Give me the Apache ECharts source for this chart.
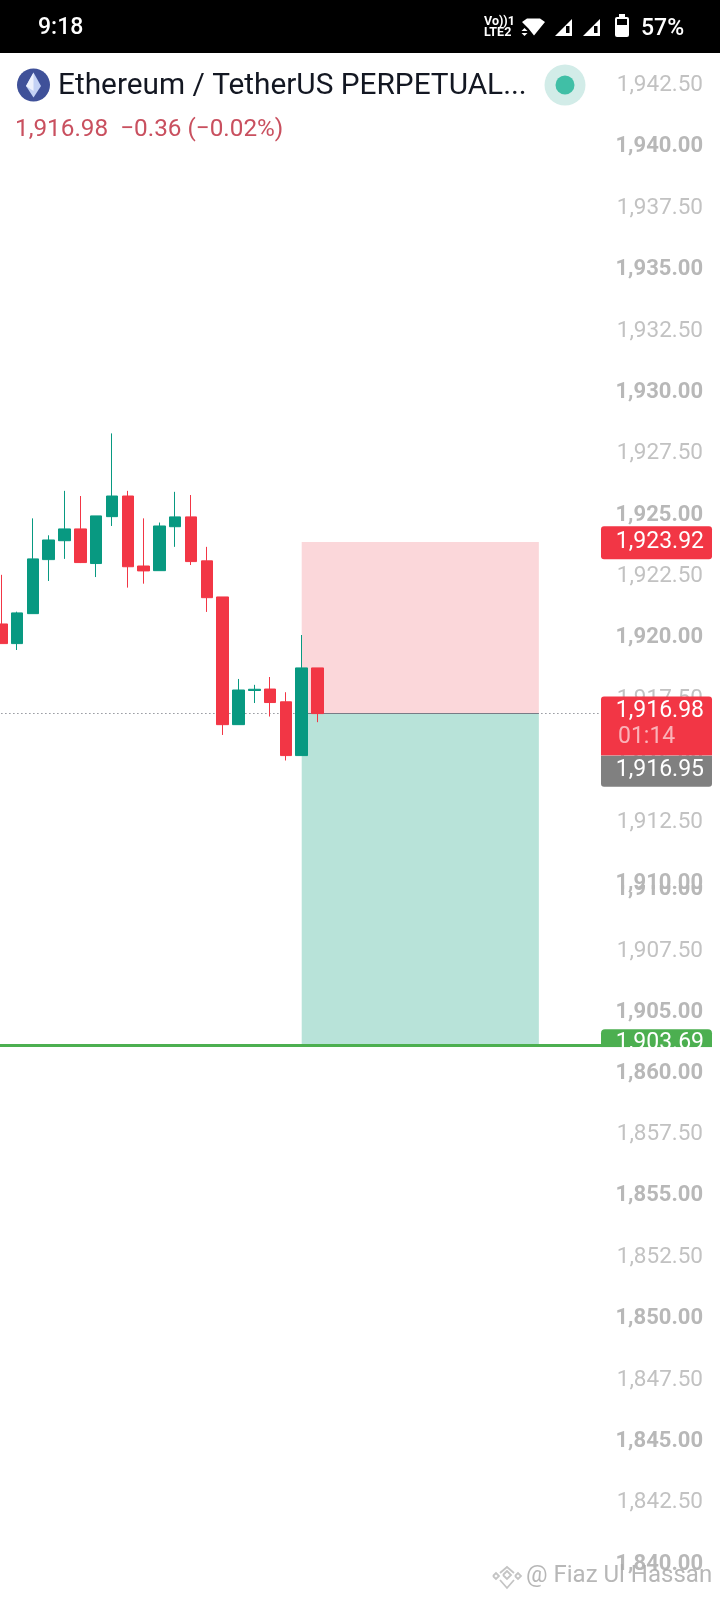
<!DOCTYPE html>
<html>
<head>
<meta charset="utf-8">
<style>html,body{margin:0;padding:0;background:#fff}#c{width:720px;height:1600px}</style>
<script src="https://cdn.jsdelivr.net/npm/echarts@6/dist/echarts.min.js"></script>
</head>
<body>
<div id="c"></div>
<script>
const categories = Array.from({length: 39}, (_, i) => 'C' + i);
const opens  = [1920.63,1919.83,1921.05,1923.25,1924.02,1924.50,1923.09,1925.00,1925.84,1922.99,1922.80,1924.59,1924.99,1923.20,1921.73,1916.53,1917.92,1917.98,1917.46,1915.27,1918.84];
const closes = [1919.83,1921.08,1923.28,1924.05,1924.50,1923.13,1925.03,1925.84,1922.96,1922.79,1924.62,1924.99,1923.17,1921.70,1916.53,1917.94,1917.97,1917.43,1915.27,1918.84,1916.98];
const lows   = [1919.83,1919.57,1921.05,1922.38,1923.28,1923.11,1922.54,1924.62,1922.11,1922.27,1922.80,1923.77,1923.03,1921.12,1916.11,1916.53,1917.41,1916.86,1915.07,1915.27,1916.63];
const highs  = [1922.63,1921.13,1924.93,1924.24,1926.05,1925.84,1925.03,1928.39,1926.05,1924.93,1924.76,1926.01,1925.88,1923.77,1921.73,1918.39,1918.15,1918.47,1917.85,1920.18,1918.84];

const ticksTop = [1942.5,1940,1937.5,1935,1932.5,1930,1927.5,1925,1922.5,1920,1917.5,1915,1912.5,1910];
const ticksMid = [1910,1907.5,1905];
const ticksBottom = [1860,1857.5,1855,1852.5,1850,1847.5,1845,1842.5,1840];

const entryPrice = 1916.98;
const stopPrice = 1923.92;
const stopBoxEdge = 1923.97;
const targetPrice = 1903.69;
const lastPrice = 1916.95;
const boxStart = 19;
const boxEnd = 34;
const countdown = '01:14';

const titleText = 'Ethereum / TetherUS PERPETUAL...';
const quoteText = '1,916.98  \u22120.36 (\u22120.02%)';

const FONT = 'Roboto';
const fmt = v => v.toLocaleString('en-US', {minimumFractionDigits: 2, maximumFractionDigits: 2});

function yLabel(values, shift) {
  return {
    show: true, customValues: values, hideOverlap: false,
    align: 'right', margin: 93, padding: [0, 0, shift * 2, 0],
    fontFamily: FONT, fontSize: 22, color: '#bcbcbc',
    formatter: v => (v % 5 === 0 ? '{b|' + fmt(v) + '}' : '{n|' + fmt(v) + '}'),
    rich: {
      b: {fontFamily: FONT, fontSize: 22, fontWeight: 700, color: '#b8b8b8'},
      n: {fontFamily: FONT, fontSize: 22.5, fontWeight: 400, color: '#c2c2c2'}
    }
  };
}
function yAxis(gridIndex, min, max, values, shift, z) {
  return {
    type: 'value', gridIndex, min, max, position: 'right', scale: true, z,
    axisLine: {show: false}, axisTick: {show: false}, splitLine: {show: false},
    axisLabel: yLabel(values, shift)
  };
}
function xAxis(gridIndex) {
  return {type: 'category', gridIndex, data: categories, show: false, boundaryGap: true};
}
const grid = (top, height) => ({left: -6.6, width: 616.6, top, height, containLabel: false, outerBoundsMode: 'none'});

function tagRender(params, api) {
  const y = api.coord([0, api.value(1)])[1];
  const i = params.dataIndex;
  const rect = (top, h, fill, r) => ({type: 'rect', shape: {x: 601, y: top, width: 111, height: h, r}, style: {fill}});
  const text = (t, tx, ty, fill, align) => ({
    type: 'text',
    style: {text: t, x: tx, y: ty, fill, font: '400 23px ' + FONT, textAlign: align || 'right', textVerticalAlign: 'middle'}
  });
  if (i === 0) return {type: 'group', children: [
    rect(y - 17, 33, '#f23645', [3, 3, 3, 3]),
    text(fmt(stopPrice), 704, y - 1, '#ffffff')]};
  if (i === 1) return {type: 'group', children: [
    rect(y - 17, 59, '#f23645', [3, 3, 0, 0]),
    text(fmt(entryPrice), 704, y - 2, '#ffffff'),
    text(countdown, 618, y + 24, 'rgba(255,255,255,0.62)', 'left')]};
  return {type: 'group', children: [
    rect(y + 41.5, 31, '#808080', [0, 0, 3, 3]),
    text(fmt(lastPrice), 704, y + 56, '#ffffff')]};
}
function targetTagRender(params, api) {
  const y = api.coord([0, api.value(1)])[1];
  return {type: 'group', children: [
    {type: 'rect', shape: {x: 601, y: y - 16, width: 111, height: 18, r: [4, 4, 0, 0]}, style: {fill: '#4caf50'}},
    {type: 'text', style: {text: fmt(targetPrice), x: 704, y: y - 2, fill: '#ffffff', font: '400 23px ' + FONT, textAlign: 'right', textVerticalAlign: 'middle'}},
    {type: 'rect', shape: {x: 601, y: y + 2, width: 111, height: 11}, style: {fill: '#ffffff'}}
  ]};
}

const poly = (points, fill, z) => ({type: 'polygon', shape: {points}, style: {fill}, z: z || 30, silent: true});
const line = (points, z) => ({type: 'polyline', shape: {points}, style: {stroke: '#c4c4c4', lineWidth: 1.8, fill: null}, z: z || 30, silent: true});
const label = (t, x, y, font, fill, align) => ({type: 'text', z: 30, silent: true, style: {text: t, x, y, font, fill, textAlign: align || 'left', textVerticalAlign: 'middle'}});
const box = (x, y, width, height, fill, r, z) => ({type: 'rect', shape: {x, y, width, height, r: r || 0}, style: {fill}, z: z || 30, silent: true});

const decorations = [
  box(0, 0, 720, 53, '#000', 0, 29),
  label('9:18', 38, 28.5, '500 23px ' + FONT, '#fff'),
  label('Vo))1', 484, 22, '700 12.5px ' + FONT, '#fff'),
  label('LTE2', 484, 33, '700 12.5px ' + FONT, '#fff'),
  poly([[522,22],[527,18.5],[540,18.5],[545,22],[534,35.5],[528.5,28.5]], '#fff'),
  poly([[524.5,28],[521.5,31],[527.5,31]], '#fff'),
  poly([[521.5,33],[527.5,33],[524.5,36]], '#fff'),
  poly([[555,36],[572,36],[572,19]], '#fff'),
  box(566, 26, 3.5, 7, '#000', 0, 31),
  poly([[583,36],[600,36],[600,19]], '#fff'),
  box(594, 26, 3.5, 7, '#000', 0, 31),
  box(619, 14, 6, 4, '#fff'),
  box(615, 17, 14, 20, '#fff', 2),
  box(617, 19, 10, 6, '#000', 0, 31),
  label('57%', 641, 29, '500 23px ' + FONT, '#fff'),
  {type: 'circle', shape: {cx: 33.5, cy: 85, r: 16.5}, style: {fill: '#3f5199'}, z: 30, silent: true},
  poly([[33.5,72.5],[41,86],[33.5,97.5],[26,86]], '#c4d2f5'),
  poly([[33.5,72.5],[33.5,91],[26,86]], '#eef2fd', 31),
  {type: 'circle', shape: {cx: 565, cy: 85, r: 20.5}, style: {fill: '#d2ece8'}, z: 30, silent: true},
  {type: 'circle', shape: {cx: 565, cy: 85, r: 9.5}, style: {fill: '#40bfa6'}, z: 31, silent: true},
  box(612, 874, 96, 11, '#fff', 0, 2),
  line([[500,1573],[507,1567],[514,1573]]),
  line([[493,1576],[496,1573],[499,1576],[496,1579],[493,1576]]),
  line([[515,1576],[518,1573],[521,1576],[518,1579],[515,1576]]),
  line([[503,1575],[507,1571],[511,1575],[507,1579],[503,1575]]),
  line([[500,1580],[507,1588],[514,1580]]),
  label('@ Fiaz Ul Hassan', 526, 1576, '400 24px ' + FONT, 'rgba(170,170,170,0.85)')
];

const option = {
  animation: false,
  backgroundColor: '#ffffff',
  title: [
    {text: titleText, left: 53, top: 66.5, z: 30, textStyle: {fontFamily: FONT, fontSize: 29.8, fontWeight: 400, color: '#131722'}},
    {text: quoteText, left: 10, top: 113, z: 30, textStyle: {fontFamily: FONT, fontSize: 24.3, fontWeight: 400, color: '#c9505f'}}
  ],
  grid: [grid(53, 832), grid(885, 162), grid(1047, 553)],
  xAxis: [xAxis(0), xAxis(1), xAxis(2)],
  yAxis: [
    yAxis(0, 1910, 1943.88, ticksTop, 1.5, 3),
    yAxis(1, 1903.62, 1910.21, ticksMid, 0.2, 1),
    yAxis(2, 1838.60, 1861.12, ticksBottom, 1.5, 1)
  ],
  graphic: {elements: decorations},
  series: [
    {
      type: 'candlestick', xAxisIndex: 0, yAxisIndex: 0, barWidth: 12, z: 5,
      clip: false,
      data: opens.map((o, i) => [o, closes[i], lows[i], highs[i]]),
      itemStyle: {color: '#089981', color0: '#f23645', borderColor: '#089981', borderColor0: '#f23645', borderWidth: 1},
      markArea: {
        silent: true, z: 1,
        data: [
          [{xAxis: boxStart, yAxis: stopBoxEdge, itemStyle: {color: '#fbd7da'}}, {xAxis: boxEnd, yAxis: entryPrice}],
          [{xAxis: boxStart, yAxis: entryPrice, itemStyle: {color: '#b8e3d9'}}, {xAxis: boxEnd, yAxis: 1910}]
        ]
      },
      markLine: {
        silent: true, symbol: 'none', label: {show: false}, z: 2,
        data: [
          {yAxis: entryPrice, lineStyle: {color: '#5d606b', type: [1, 3], width: 1}},
          [{xAxis: boxStart, yAxis: entryPrice, lineStyle: {color: '#787b86', type: 'solid', width: 1}}, {xAxis: boxEnd, yAxis: entryPrice}]
        ]
      }
    },
    {
      type: 'custom', xAxisIndex: 0, yAxisIndex: 0, z: 20, clip: false, silent: true,
      encode: {x: 0, y: 1},
      data: [[0, stopPrice], [0, entryPrice], [0, lastPrice]],
      renderItem: tagRender
    },
    {
      type: 'line', xAxisIndex: 1, yAxisIndex: 1, data: [], silent: true,
      markArea: {
        silent: true, z: 1,
        data: [[{xAxis: boxStart, yAxis: 1910.21, itemStyle: {color: '#b8e3d9'}}, {xAxis: boxEnd, yAxis: targetPrice}]]
      },
      markLine: {
        silent: true, symbol: 'none', label: {show: false}, z: 2,
        data: [{yAxis: targetPrice, lineStyle: {color: '#4caf50', type: 'solid', width: 3}}]
      }
    },
    {
      type: 'custom', xAxisIndex: 1, yAxisIndex: 1, z: 20, clip: false, silent: true,
      encode: {x: 0, y: 1},
      data: [[0, targetPrice]],
      renderItem: targetTagRender
    },
    {type: 'line', xAxisIndex: 2, yAxisIndex: 2, data: [], silent: true}
  ]
};
echarts.init(document.getElementById('c'), null, {renderer: 'canvas'}).setOption(option);
</script>
</body>
</html>
